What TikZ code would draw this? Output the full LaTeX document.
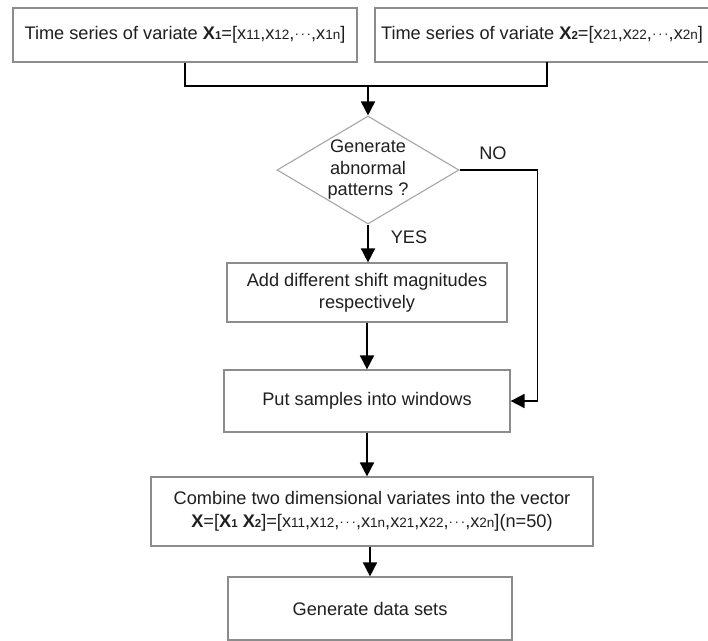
\documentclass[tikz,border=0pt]{standalone}
\usepackage{fontspec}
\setmainfont{Liberation Sans}
\usetikzlibrary{arrows.meta,shapes.geometric}
\newcommand{\sm}[1]{{\fontsize{13.5}{13.5}\selectfont #1}}
\newcommand{\bX}[1]{\textbf{X}{\fontsize{11.5}{11.5}\selectfont\bfseries #1}}
\newcommand{\xx}[1]{x\sm{#1}}
\newcommand{\cdts}{\raisebox{0.8pt}{\sm{\textperiodcentered\kern1.6pt\textperiodcentered\kern1.6pt\textperiodcentered}}}
\tikzset{
  box/.style={draw=black!45, line width=1.2pt, fill=white, inner sep=0pt, align=center, text=black!88},
  conn/.style={draw=black, line width=1.7pt},
  arr/.style={conn, -{Triangle[length=14pt,width=14pt]}},
  lbl/.style={text=black!88, inner sep=0pt},
  every node/.style={font=\fontsize{18.2}{22}\selectfont}
}
\begin{document}
\begin{tikzpicture}[x=1pt,y=-1pt]
\useasboundingbox (0,0) rectangle (708,640);
\begin{scope}
\clip (0,0) rectangle (708,640);
\node[box, minimum width=344pt, minimum height=54pt] (b1) at (185,35)
  {Time series of variate \bX{1}=[\xx{11},\xx{12},\cdts,\xx{1n}]};
\node[box, minimum width=380pt, minimum height=54pt] (b2) at (565,35) {};
\node[lbl] (b2t) at (542,35)
  {Time series of variate \bX{2}=[\xx{21},\xx{22},\cdts,\xx{2n}]};
\end{scope}
\node[draw=black!35, line width=1.1pt, shape=diamond, inner sep=0pt, minimum width=182pt, minimum height=108pt] (dia) at (368,170) {};
\node[lbl, align=center, font=\fontsize{18.2}{21.5}\selectfont] (diat) at (368,170) {Generate\\abnormal\\patterns ?};
\node[box, minimum width=280pt, minimum height=59pt] (b3) at (367,292.5)
  {Add different shift magnitudes\\respectively};
\node[box, minimum width=286pt, minimum height=62pt] (b4) at (367,401)
  {Put samples into windows};
\node[box, minimum width=442pt, minimum height=69pt, font=\fontsize{18.2}{23}\selectfont] (b5) at (372,511.5)
  {Combine two dimensional variates into the vector\\
   \textbf{X}=[\bX{1} \bX{2}]=[\xx{11},\xx{12},\cdts,\xx{1n},\xx{21},\xx{22},\cdts,\xx{2n}](n=50)};
\node[box, minimum width=284pt, minimum height=63pt] (b6) at (370,608.5)
  {Generate data sets};
\node[lbl] (no) at (493,153) {NO};
\node[lbl] (yes) at (409,237) {YES};
\coordinate (j) at (368,86);
\coordinate (b2c) at (547,62);
\draw[conn] (b1.south) |- (j);
\draw[conn] (b2c) |- (j);
\draw[arr] (j) -- (dia.north);
\draw[arr] (dia.south) -- (b3.north -| dia.south);
\draw[arr] (b3.south) -- (b4.north);
\draw[arr] (dia.east) -- ++(78,0) |- (b4.east);
\draw[arr] (b4.south) -- (b4.south |- b5.north);
\draw[arr] (b6.north |- b5.south) -- (b6.north);
\end{tikzpicture}
\end{document}
